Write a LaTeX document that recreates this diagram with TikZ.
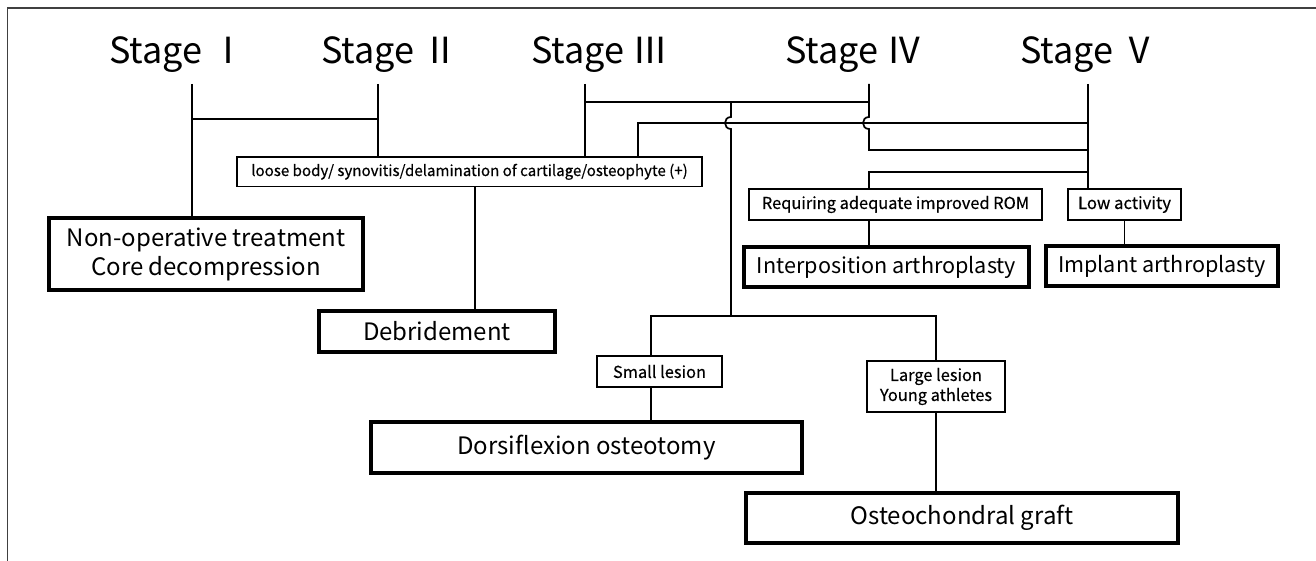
\documentclass[tikz,border=0pt]{standalone}
\usepackage{fontspec}
\setmainfont{Noto Sans CJK JP}
\newfontfamily\smallfnt[FakeBold=0.4]{Noto Sans CJK JP}
\begin{document}
\begin{tikzpicture}[x=1pt,y=-1pt,
  conn/.style={line width=1.7pt, line join=miter},
  stagelbl/.style={font=\fontsize{36}{40}\selectfont, anchor=base, inner sep=0pt},
  bigbox/.style={draw, line width=3.2pt, inner sep=0pt, align=center, font=\fontsize{24}{29}\selectfont},
  smallbox/.style={draw, line width=1.7pt, inner sep=0pt, align=center, font=\smallfnt\fontsize{16.4}{20}\selectfont},
]
\useasboundingbox (0,0) rectangle (1316,561);
\draw[black!75, line width=1.4pt] (7.5,561) -- (7.5,8) -- (1316,8);

% stage labels
\node[stagelbl] (s1) at (178,64) {Stage Ⅰ};
\node[stagelbl] (s2) at (390,64) {Stage Ⅱ};
\node[stagelbl] (s3) at (600,64) {Stage Ⅲ};
\node[stagelbl] (s4) at (854,64) {Stage Ⅳ};
\node[stagelbl] (s5) at (1089,64) {Stage Ⅴ};

% boxes
\node[smallbox, minimum width=465pt, minimum height=29.5pt, font=\smallfnt\fontsize{15.1}{18}\selectfont] (loose) at (469.5,171.75) {loose body/ synovitis/delamination of cartilage/osteophyte (+)};
\node[bigbox, minimum width=314pt, minimum height=72pt] (nonop) at (206,254) {Non-operative treatment\\Core decompression};
\node[bigbox, minimum width=236pt, minimum height=41pt] (debr) at (437,331.5) {Debridement};
\node[smallbox, minimum width=293pt, minimum height=31pt] (req) at (895.5,204.5) {Requiring adequate improved ROM};
\node[smallbox, minimum width=113pt, minimum height=31pt, font=\smallfnt\fontsize{16.7}{20}\selectfont] (low) at (1124.5,204.5) {Low activity};
\node[bigbox, minimum width=285pt, minimum height=40pt, font=\fontsize{21.6}{26}\selectfont] (interp) at (886.5,267) {Interposition arthroplasty};
\node[bigbox, minimum width=232pt, minimum height=40pt, font=\fontsize{21.6}{26}\selectfont] (impl) at (1162,266) {Implant arthroplasty};
\node[smallbox, minimum width=125pt, minimum height=31pt] (small) at (659.5,371.5) {Small lesion};
\node[smallbox, minimum width=138pt, minimum height=51pt, font=\smallfnt\fontsize{16.4}{20}\selectfont] (large) at (936,386.5) {Large lesion\\Young athletes};
\node[bigbox, minimum width=431pt, minimum height=51pt] (dorsi) at (586.5,447.5) {Dorsiflexion osteotomy};
\node[bigbox, minimum width=432pt, minimum height=50pt] (osteo) at (962,518) {Osteochondral graft};

% line coordinates
\coordinate (t1) at (192,84);
\coordinate (t2) at (378,84);
\coordinate (t3) at (585,84);
\coordinate (t4) at (869,84);
\coordinate (t5) at (1088,84);
\coordinate (j12a) at (192,119);
\coordinate (j12b) at (378,119);
\coordinate (j34a) at (585,102);
\coordinate (jm) at (731,102);
\coordinate (j34b) at (869,102);
\coordinate (jm1) at (731,117);
\coordinate (jm2) at (731,129);
\coordinate (j41) at (869,117);
\coordinate (j42) at (869,129);
\coordinate (cl) at (638,123);
\coordinate (cl5) at (1088,123);
\coordinate (j45a) at (869,150);
\coordinate (j45b) at (1088,150);
\coordinate (jr5) at (1088,172);
\coordinate (jr4) at (869,172);
\coordinate (hb) at (731,316);
\coordinate (hbl) at (651,316);
\coordinate (hbr) at (936,316);
\coordinate (cd) at (475,0);
\coordinate (cs) at (651,0);

\draw[conn] (t1) -- (nonop.north -| t1);
\draw[conn] (j12a) -- (j12b);
\draw[conn] (t2) -- (loose.north -| t2);
\draw[conn] (t3) -- (loose.north -| t3);
\draw[conn] (j34a) -- (j34b);
\draw[conn] (t4) -- (j41) .. controls (861,117) and (861,129) .. (j42) -- (j45a) -- (j45b);
\draw[conn] (jm) -- (jm1) .. controls (723,117) and (723,129) .. (jm2) -- (hb);
\draw[conn] (loose.north -| cl) -- (cl) -- (cl5);
\draw[conn] (t5) -- (low.north -| t5);
\draw[conn] (jr5) -- (jr4) -- (req.north -| jr4);
\draw[conn] (loose.south -| cd) -- (debr.north -| cd);
\draw[conn] (req.south -| jr4) -- (interp.north -| jr4);
\draw[conn] (low.south) -- (impl.north -| low.south);
\draw[conn] (small.north -| cs) -- (hbl) -- (hbr) -- (large.north);
\draw[conn] (small.south -| cs) -- (dorsi.north -| cs);
\draw[conn] (large.south) -- (osteo.north -| large.south);
\end{tikzpicture}
\end{document}
